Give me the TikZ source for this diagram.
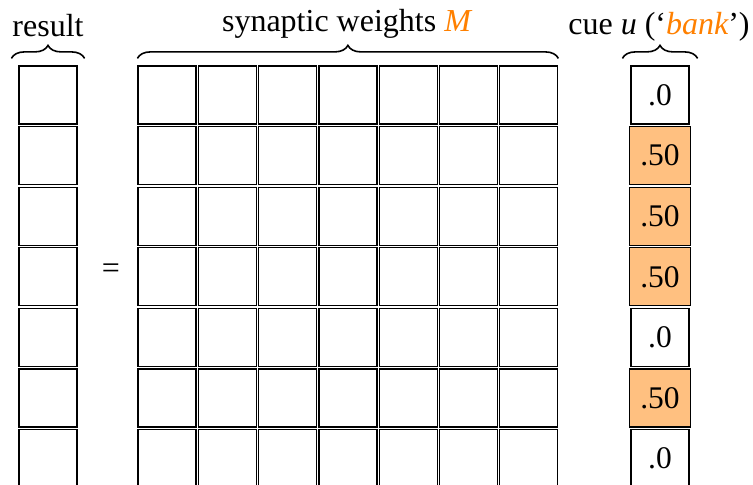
\documentclass[tikz,border=0pt]{standalone}
\usepackage{fontspec}
\setmainfont{Liberation Serif}
\usetikzlibrary{decorations.pathreplacing}
\definecolor{hlorange}{RGB}{255,128,0}
\definecolor{cellorange}{RGB}{255,192,128}
\begin{document}
\begin{tikzpicture}[x=1pt,y=1pt,
  cell/.style={draw=black, line width=1.2pt, minimum width=58pt, minimum height=58pt, inner sep=0pt, anchor=center, font=\fontsize{31.5}{36}\selectfont},
  hot/.style={cell, fill=cellorange, minimum width=61pt},
  lbl/.style={font=\fontsize{32}{36}\selectfont, anchor=base, inner sep=0pt},
  brc/.style={decorate, decoration={brace, amplitude=13pt}, line width=1.6pt}]
\useasboundingbox (0,0) rectangle (753,485);
\clip (0,0) rectangle (753,485);
\foreach \i in {1,...,7} {
  \pgfmathsetmacro\yy{390-(\i-1)*60.6}
  \node[cell] (r\i) at (48,\yy) {};
  \foreach \j in {1,...,7} {
    \node[cell] (m\i-\j) at ({167+(\j-1)*60.3},\yy) {};
  }
}
\node[cell] (c1) at (660,390) {.0};
\node[hot]  (c2) at (660,329.4) {.50};
\node[hot]  (c3) at (660,268.8) {.50};
\node[hot]  (c4) at (660,208.2) {.50};
\node[cell] (c5) at (660,147.6) {.0};
\node[hot]  (c6) at (660,87) {.50};
\node[cell] (c7) at (660,26.4) {.0};
\node[lbl] (eq) at (111,206.5) {=};
\draw[brc] ([shift={(-7,7)}]r1.north west) -- ([shift={(7,7)}]r1.north east);
\draw[brc] ([shift={(0,7)}]m1-1.north west) -- ([shift={(0,7)}]m1-7.north east);
\draw[brc] ([shift={(-8,7)}]c1.north west) -- ([shift={(8,7)}]c1.north east);
\node[lbl] (tres) at (48,448.3) {result};
\node[lbl] (tmat) at (346.5,453.3) {synaptic weights \textcolor{hlorange}{\itshape M}};
\node[lbl] (tcue) at (659,450.7) {cue \textit{u} (‘\textcolor{hlorange}{\itshape bank}’)};
\end{tikzpicture}
\end{document}
